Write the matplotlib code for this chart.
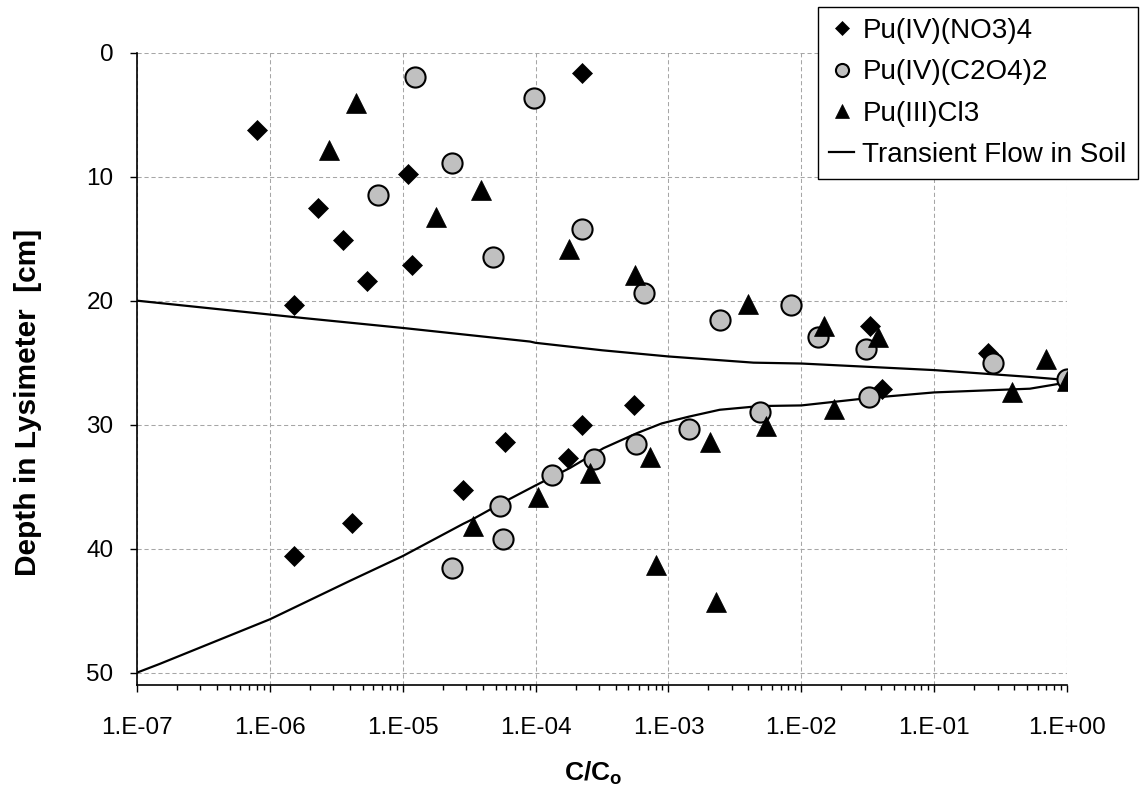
import numpy as np
import matplotlib
matplotlib.use("Agg")
import matplotlib.pyplot as plt
from matplotlib.ticker import FixedLocator, FuncFormatter, NullFormatter

plt.rcParams['font.family'] = ['Liberation Sans', 'DejaVu Sans']
plt.rcParams['mathtext.fontset'] = 'custom'
plt.rcParams['mathtext.rm'] = 'Liberation Sans'
plt.rcParams['mathtext.bf'] = 'Liberation Sans:bold'

# Pu(IV)(NO3)4  (diamonds)
no3_conc = [8.0e-7, 1.09e-5, 2.29e-6, 3.53e-6, 1.17e-5, 5.4e-6, 1.53e-6, 2.22e-4, 3.29e-2,
            0.255, 4.04e-2, 5.47e-4, 2.24e-4, 5.9e-5, 1.74e-4, 2.85e-5, 4.15e-6, 1.53e-6]
no3_depth = [6.2, 9.8, 12.5, 15.1, 17.1, 18.4, 20.35, 1.6, 22.06,
             24.2, 27.1, 28.4, 30.0, 31.4, 32.7, 35.3, 37.9, 40.6]

# Pu(IV)(C2O4)2  (circles)
c2o4_conc = [1.24e-5, 9.7e-5, 2.33e-5, 6.47e-6, 2.24e-4, 4.74e-5, 6.5e-4, 8.4e-3, 2.44e-3,
             1.33e-2, 3.06e-2, 0.277, 1.0, 3.25e-2, 4.9e-3, 1.43e-3, 5.67e-4, 2.74e-4,
             1.34e-4, 5.4e-5, 5.65e-5, 2.34e-5]
c2o4_depth = [1.93, 3.65, 8.9, 11.5, 14.2, 16.5, 19.4, 20.34, 21.57,
              22.9, 23.9, 25.05, 26.3, 27.77, 29.0, 30.35, 31.55, 32.75,
              34.1, 36.6, 39.2, 41.6]

# Pu(III)Cl3  (triangles)
cl3_conc = [4.47e-6, 2.77e-6, 3.86e-5, 1.79e-5, 1.79e-4, 5.6e-4, 3.94e-3, 1.49e-2, 3.8e-2,
            0.70, 1.0, 0.385, 1.75e-2, 5.43e-3, 2.06e-3, 7.2e-4, 2.57e-4, 1.04e-4,
            3.39e-5, 8.1e-4, 2.26e-3]
cl3_depth = [4.06, 7.85, 11.07, 13.27, 15.8, 17.97, 20.3, 22.06, 22.94,
             24.7, 26.5, 27.4, 28.7, 30.1, 31.4, 32.6, 33.9, 35.8,
             38.2, 41.3, 44.3]

# transient flow in soil (model curve, depth 20 -> 50 cm)
flow_conc = [1e-7, 1.78e-6, 1e-5, 9.1e-5, 1e-4, 3.16e-4, 1e-3, 4.37e-3, 1e-2, 1e-1, 0.525, 1.0,
             1.0, 0.525, 0.1, 3.24e-2, 1e-2, 4.9e-3, 2.43e-3, 1.43e-3, 8.9e-4, 5.75e-4,
             3.24e-4, 1.81e-4, 1e-4, 5.4e-5, 3.4e-5, 2.85e-5, 1e-5, 4e-6, 1e-6, 1.48e-7, 1e-7]
flow_depth = [20.0, 21.4, 22.2, 23.3, 23.4, 24.0, 24.5, 25.0, 25.07, 25.6, 26.15, 26.4,
              26.6, 27.1, 27.4, 27.85, 28.45, 28.5, 28.8, 29.35, 29.9, 30.7,
              31.9, 33.5, 34.9, 36.4, 37.6, 38.0, 40.6, 42.6, 45.7, 49.3, 50.0]

labels = ['Pu(IV)(NO3)4', 'Pu(IV)(C2O4)2', 'Pu(III)Cl3', 'Transient Flow in Soil']
decades = [1e-7, 1e-6, 1e-5, 1e-4, 1e-3, 1e-2, 1e-1, 1e0]

fig = plt.figure(figsize=(11.4, 7.89), dpi=100)
ax = fig.add_subplot(111)
fig.subplots_adjust(left=0.1202, right=0.936, bottom=0.1318, top=0.9332)

line, = ax.plot(flow_conc, flow_depth, color='black', lw=1.6, zorder=2)
h1, = ax.plot(no3_conc, no3_depth, 'D', ls='none', ms=10.5, color='black', mec='black', mew=0.5, zorder=3)
h2, = ax.plot(c2o4_conc, c2o4_depth, 'o', ls='none', ms=14.5, mfc='#c0c0c0', mec='black', mew=1.5, zorder=4)
h3, = ax.plot(cl3_conc, cl3_depth, '^', ls='none', ms=15, color='black', mec='black', mew=0.5, zorder=5)

ax.set_xscale('log')
ax.set_xlim(1e-7, 1e0)
ax.set_ylim(51, 0)
ax.set_yticks([0, 10, 20, 30, 40, 50])
# only ticks inside the range, so no hidden labels outside the axes
minors = [d * k for d in decades[:-1] for k in range(2, 10)]
ax.xaxis.set_major_locator(FixedLocator(decades))
ax.xaxis.set_minor_locator(FixedLocator(minors))
ax.xaxis.set_minor_formatter(NullFormatter())
ax.xaxis.set_major_formatter(FuncFormatter(lambda v, p: "1.E%+03d" % int(round(np.log10(v)))))

ax.grid(True, which='major', color='#a6a6a6', ls=(0, (4, 2.7)), lw=0.75)
for s in ['top', 'right']:
    ax.spines[s].set_visible(False)
for s in ['left', 'bottom']:
    ax.spines[s].set_linewidth(1.2)

ax.tick_params(axis='both', which='major', direction='out', length=5, width=1, labelsize=17.5)
ax.tick_params(axis='x', which='major', pad=18)
ax.tick_params(axis='y', which='major', pad=12)
ax.tick_params(axis='x', which='minor', direction='out', length=3.6, width=1)

ax.set_ylabel('Depth in Lysimeter  [cm]', fontsize=21.5, fontweight='bold')
ax.yaxis.set_label_coords(-0.1025, 0.4476)
ax.set_xlabel(r'$\mathbf{C/C_o}$', fontsize=19)
ax.xaxis.set_label_coords(0.49, -0.118)

leg = fig.legend([h1, h2, h3, line], labels, loc='upper right', bbox_to_anchor=(0.998, 0.991),
                 fontsize=20, frameon=True, fancybox=False, edgecolor='black', framealpha=1,
                 markerscale=0.65, handlelength=0.9, handletextpad=0.3, labelspacing=0.55,
                 borderpad=0.4, borderaxespad=0)
leg.get_frame().set_linewidth(1.0)

fig.savefig('out.png', dpi=100)
